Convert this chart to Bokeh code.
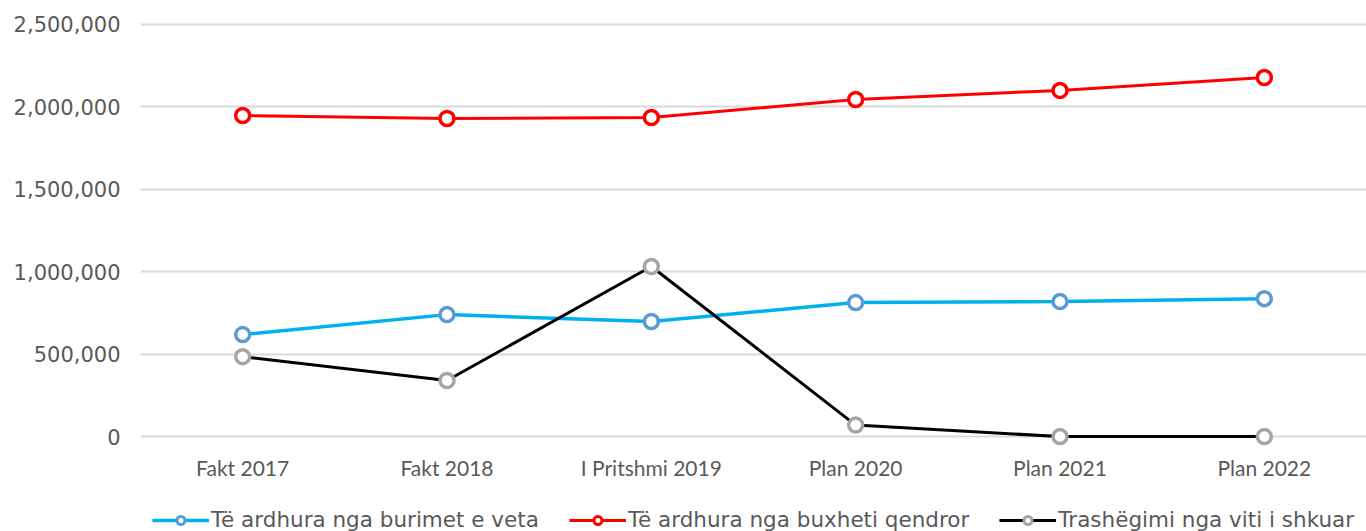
from bokeh.plotting import figure
from bokeh.layouts import column
from bokeh.models import Legend, LegendItem, NumeralTickFormatter, FixedTicker, FactorRange, Range1d
from bokeh.embed import file_html
from bokeh.resources import INLINE

categories = ["Fakt 2017", "Fakt 2018", "I Pritshmi 2019", "Plan 2020", "Plan 2021", "Plan 2022"]
own_sources = [619000, 740000, 698000, 813000, 819000, 837000]
central_budget = [1948000, 1930000, 1936000, 2045000, 2100000, 2178000]
carryover = [485000, 340000, 1032000, 70000, 0, 0]
series_names = ["Të ardhura nga burimet e veta", "Të ardhura nga buxheti qendror", "Trashëgimi nga viti i shkuar"]
y_ticks = [0, 500000, 1000000, 1500000, 2000000, 2500000]

p = figure(x_range=FactorRange(*categories, range_padding=0),
           y_range=Range1d(-60000, 2512000),
           frame_width=1226, frame_height=424, min_border_left=140, min_border_top=22,
           min_border_right=0, min_border_bottom=0,
           output_backend="svg", toolbar_location=None)
p.outline_line_color = None
p.background_fill_color = "white"
p.border_fill_color = "white"

p.xgrid.grid_line_color = None
p.ygrid.grid_line_color = "#d9d9d9"
p.ygrid.grid_line_width = 2

p.yaxis.ticker = FixedTicker(ticks=y_ticks)
p.yaxis.formatter = NumeralTickFormatter(format="0,0")
for ax in (p.xaxis[0], p.yaxis[0]):
    ax.axis_line_color = None
    ax.major_tick_line_color = None
    ax.minor_tick_line_color = None
    ax.major_tick_in = 0
    ax.major_tick_out = 0
    ax.major_label_text_color = "#595959"
p.yaxis.major_label_text_font = "DejaVu Sans"
p.yaxis.major_label_text_font_size = "21px"
p.yaxis.major_label_standoff = 20
p.xaxis.major_label_text_font = "Lato"
p.xaxis.major_label_text_font_size = "21px"
p.xaxis.major_label_standoff = 8

specs = [
    (own_sources, "#00b0f0", "#5b9bd5", 3.5),
    (central_budget, "#ff0000", "#ff0000", 3),
    (carryover, "#000000", "#a5a5a5", 3),
]

# legend strip (separate figure so it sits exactly under the axis labels)
p2 = figure(x_range=Range1d(0, 1), y_range=Range1d(0, 1), width=1366, height=50,
            min_border=0, x_axis_location=None, y_axis_location=None,
            output_backend="svg", toolbar_location=None)
p2.outline_line_color = None
p2.xgrid.visible = False
p2.ygrid.visible = False

items = []
for (vals, lc, mc, lw), name in zip(specs, series_names):
    p.line(categories, vals, line_color=lc, line_width=lw)
    p.scatter(categories, vals, size=14, marker="circle", fill_color="white",
              line_color=mc, line_width=3.5)
    r1 = p2.line([-5, -4], [-5, -4], line_color=lc, line_width=lw)
    r2 = p2.scatter([-5], [-5], size=12, marker="circle", fill_color="white",
                    line_color=mc, line_width=3)
    items.append(LegendItem(label=name, renderers=[r1, r2]))

legend = Legend(items=items, orientation="horizontal", location="bottom_center",
                label_text_font="DejaVu Sans", label_text_font_size="21.5px",
                label_text_color="#595959", glyph_width=57, glyph_height=20,
                label_standoff=2, spacing=30, padding=2, margin=0,
                border_line_color=None, background_fill_alpha=0)
p2.add_layout(legend, "center")

open("out.html", "w").write(file_html(column(p, p2, spacing=0), INLINE))
